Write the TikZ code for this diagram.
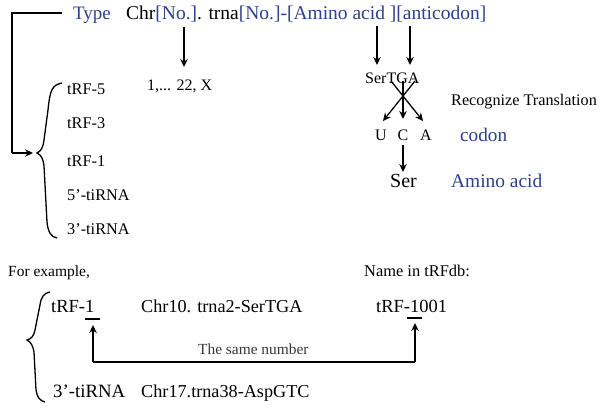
\documentclass[tikz,border=0pt]{standalone}
\usepackage{fontspec}
\setmainfont{Liberation Serif}
\usetikzlibrary{arrows.meta}
\definecolor{tblue}{RGB}{45,65,140}
\definecolor{tgray}{RGB}{55,55,55}
\newcommand\myfs[1]{\fontsize{#1}{#1}\selectfont}
\begin{document}
\begin{tikzpicture}[x=1pt,y=-1pt,
  txt/.style={inner sep=0pt, anchor=base west},
  ctxt/.style={inner sep=0pt, anchor=base},
  arr/.style={-{Stealth[length=8pt,width=7.5pt]}, line width=1.3pt},
  ln/.style={line width=1.3pt}]
\useasboundingbox (0,0) rectangle (603,408);
% header
\node[txt, text=tblue, font=\myfs{19}] (type) at (73,19) {Type};
\node[txt, font=\myfs{19.5}] (fmt) at (126,19) {Chr{\color{tblue}[No.]}. trna{\color{tblue}[No.]-[Amino acid ][anticodon]}};
% type bracket
\coordinate (c1) at (62,13);
\coordinate (c2) at (12,13);
\coordinate (c3) at (12,153);
\coordinate (c4) at (33,153);
\draw[ln] (c1) -- (c2) -- (c3);
\draw[arr] (c3) -- (c4);
% list
\draw[ln] (62,83) .. controls (52,85) and (50,90) .. (48,110) -- (44,140) .. controls (43,148) and (41,151) .. (37,153)
  .. controls (41,155) and (43,158) .. (44,166) -- (47,222) .. controls (48,232) and (51,237) .. (57,238);
\node[txt, font=\myfs{16.3}] (t5) at (67,94) {tRF-5};
\node[txt, font=\myfs{16.3}] (t3) at (67,128) {tRF-3};
\node[txt, font=\myfs{16.3}] (t1) at (67,166) {tRF-1};
\node[txt, font=\myfs{16.3}] (ti5) at (67,200) {5’-tiRNA};
\node[txt, font=\myfs{16.3}] (ti3) at (67,234) {3’-tiRNA};
% chromosome
\coordinate (a1s) at (184,27);
\node[txt, font=\myfs{16}] (chr) at (147,90) {1,... 22, X};
\draw[arr] (a1s) -- (184,67);
% amino acid / anticodon arrows
\node[txt, font=\myfs{16}] (sertga) at (365,83) {SerTGA};
\coordinate (a2s) at (377,26);
\coordinate (a3s) at (410,26);
\draw[arr] (a2s) -- (377,65);
\draw[arr] (a3s) -- (410,65);
% cross
\node[ctxt, font=\myfs{16}] (u) at (381,140) {U};
\node[ctxt, font=\myfs{16}] (c) at (403,140) {C};
\node[ctxt, font=\myfs{16}] (a) at (426,140) {A};
\coordinate (x1) at (391,81);
\coordinate (x2) at (415,81);
\coordinate (x3) at (403,81);
\draw[arr] (x1) -- (423,121);
\draw[arr] (x2) -- (383,121);
\draw[arr] (x3) -- (403,119);
\node[txt, font=\myfs{16.2}] (rec) at (451,105) {Recognize Translation};
\node[txt, text=tblue, font=\myfs{19.2}] (codon) at (460,141) {codon};
\node[ctxt, font=\myfs{20}] (ser) at (403.5,187) {Ser};
\draw[arr] (c.south) ++(0,5) coordinate (cs) (cs) -- (403,172);
\node[txt, text=tblue, font=\myfs{19.4}] (aa) at (451,187) {Amino acid};
% example
\node[txt, font=\myfs{15.5}] (fe) at (8,276) {For example,};
\node[txt, font=\myfs{16.4}] (nm) at (364,276) {Name in tRFdb:};
\draw[ln] (50,292) .. controls (44,293) and (41,297) .. (40,305) -- (35,330) .. controls (34,336) and (31,339) .. (27,340)
  .. controls (31,342) and (33,346) .. (34,352) -- (36,390) .. controls (37,397) and (40,401) .. (45,402);
\node[txt, font=\myfs{18.5}] (ex1) at (51,312) {tRF-1};
\node[txt, font=\myfs{18.2}] (ex1c) at (141,312) {Chr10. trna2-SerTGA};
\node[txt, font=\myfs{18.5}] (ex1n) at (376,312) {tRF-1001};
\node[txt, font=\myfs{18.8}] (ex2) at (53,397) {3’-tiRNA};
\node[txt, font=\myfs{18.2}] (ex2c) at (141,397) {Chr17.trna38-AspGTC};
\draw[ln] (85,319) -- (100,319);
\draw[ln] (407,318) -- (422,318);
\coordinate (b1) at (93,362);
\coordinate (b2) at (415,362);
\draw[arr] (b1) -- (93,325);
\draw[arr] (b2) -- (415,323);
\draw[ln] (b1) -- (b2);
\node[txt, text=tgray, font=\myfs{15.4}] (same) at (198,354) {The same number};
\end{tikzpicture}
\end{document}
